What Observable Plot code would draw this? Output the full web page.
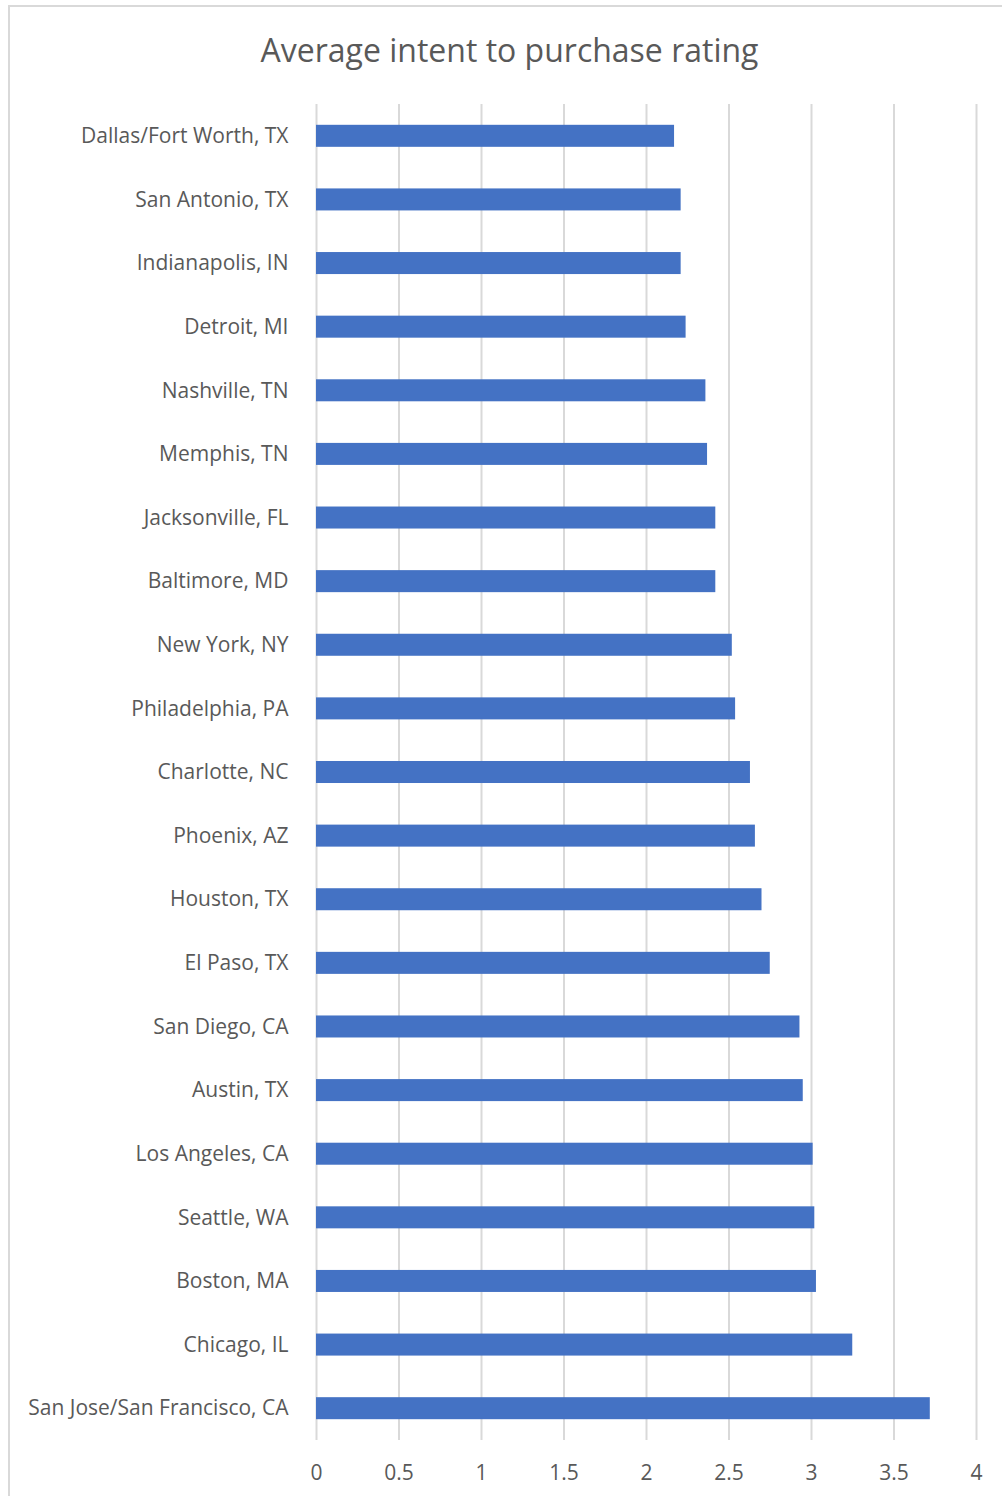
<!DOCTYPE html>
<html>
<head>
<meta charset="utf-8">
<script src="https://cdn.jsdelivr.net/npm/d3@7"></script>
<script src="https://cdn.jsdelivr.net/npm/@observablehq/plot@0.6"></script>
<style>
  html, body { margin: 0; padding: 0; background: #fff; }
  #frame { position: relative; width: 1002px; height: 1496px; overflow: hidden; }
  #border { position: absolute; left: 8px; top: 5px; width: 1100px; height: 1600px;
            border-left: 2px solid #d9d9d9; border-top: 2px solid #d9d9d9; box-sizing: border-box; }
  #title { position: relative; height: 104px; }
  #title span { position: absolute; left: 10px; width: 999px; top: 34px; line-height: 32px;
                text-align: center; font-family: "Open Sans", sans-serif; font-weight: 400;
                font-size: 32px; color: #595959; }
  #chart { position: relative; }
</style>
</head>
<body>
<div id="frame">
  <div id="border"></div>
  <div id="title"><span>Average intent to purchase rating</span></div>
  <div id="chart"></div>
</div>
<script>
// Metro areas, listed top to bottom
const cities = [
  "Dallas/Fort Worth, TX",
  "San Antonio, TX",
  "Indianapolis, IN",
  "Detroit, MI",
  "Nashville, TN",
  "Memphis, TN",
  "Jacksonville, FL",
  "Baltimore, MD",
  "New York, NY",
  "Philadelphia, PA",
  "Charlotte, NC",
  "Phoenix, AZ",
  "Houston, TX",
  "El Paso, TX",
  "San Diego, CA",
  "Austin, TX",
  "Los Angeles, CA",
  "Seattle, WA",
  "Boston, MA",
  "Chicago, IL",
  "San Jose/San Francisco, CA"
];

// Average intent-to-purchase rating per metro
const ratings = [
  2.17, 2.21, 2.21, 2.24, 2.36, 2.37, 2.42, 2.42, 2.52, 2.54, 2.63,
  2.66, 2.70, 2.75, 2.93, 2.95, 3.01, 3.02, 3.03, 3.25, 3.72
];

// Value-axis ticks
const xTicks = [0, 0.5, 1, 1.5, 2, 2.5, 3, 3.5, 4];

const data = cities.map((city, i) => ({ city, rating: ratings[i] }));

const chart = Plot.plot({
  width: 1002,
  height: 1392,
  marginTop: 0,
  marginBottom: 56,
  marginLeft: 316,
  marginRight: 26,
  style: {
    fontFamily: "'Open Sans', sans-serif",
    fontSize: "21px",
    color: "#595959",
    background: "transparent",
    overflow: "visible"
  },
  x: { domain: [0, 4] },
  y: { domain: cities, paddingInner: 0.654, paddingOuter: 0.327, round: false },
  marks: [
    Plot.ruleX(xTicks, { stroke: "#d9d9d9", strokeWidth: 2 }),
    Plot.barX(data, { x: "rating", y: "city", fill: "#4472c4" }),
    Plot.axisX({
      ticks: xTicks, tickSize: 0, tickPadding: 25, label: null,
      tickFormat: d => String(d), fill: "#595959"
    }),
    Plot.axisY({ tickSize: 0, tickPadding: 28, label: null, fill: "#595959" })
  ]
});

document.getElementById("chart").appendChild(chart);
</script>
</body>
</html>
